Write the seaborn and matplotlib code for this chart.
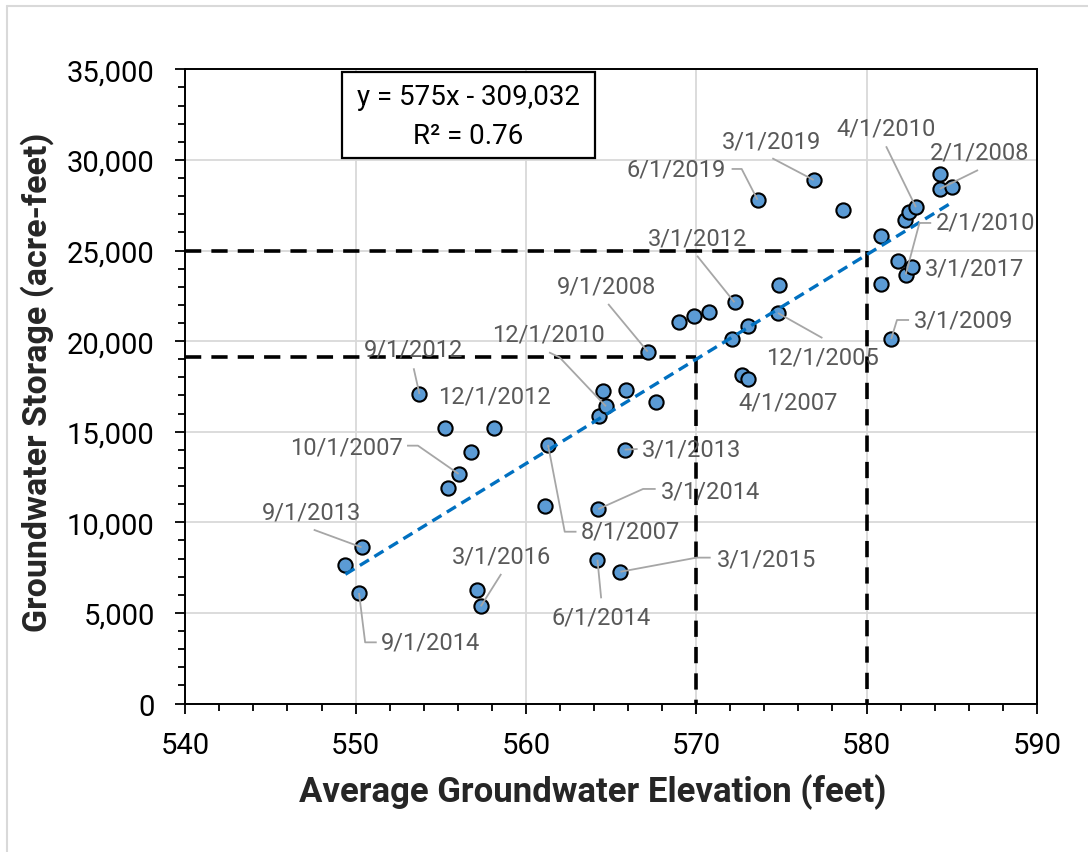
import matplotlib
matplotlib.use("Agg")
import matplotlib.pyplot as plt
from matplotlib.ticker import MultipleLocator, FuncFormatter
from matplotlib.lines import Line2D
from matplotlib.patches import Rectangle
import numpy as np
import pandas as pd
import seaborn as sns

# ---------------- data ----------------
elevation = [549.4, 550.35, 550.2, 553.75, 555.25, 555.45, 556.8, 556.05, 558.15, 557.1,
             557.35, 561.15, 561.3, 564.3, 564.55, 564.7, 565.85, 567.65, 565.8, 564.25,
             564.2, 565.55, 567.15, 569.0, 569.85, 570.75, 572.25, 572.1, 573.05, 574.8,
             574.85, 572.7, 573.05, 573.6, 576.9, 578.6, 580.85, 580.85, 581.85, 582.3,
             582.7, 581.45, 582.25, 582.5, 582.9, 584.3, 584.3, 585.0]
storage = [7640, 8620, 6100, 17080, 15220, 11890, 13900, 12670, 15190, 6280,
           5360, 10920, 14270, 15880, 17260, 16400, 17320, 16620, 14010, 10730,
           7940, 7270, 19420, 21040, 21400, 21620, 22140, 20120, 20820, 21550,
           23110, 18130, 17910, 27800, 28890, 27250, 25780, 23150, 24440, 23670,
           24070, 20120, 26680, 27140, 27390, 29220, 28400, 28490]

label_text = ["3/1/2019", "6/1/2019", "4/1/2010", "2/1/2008", "2/1/2010", "3/1/2017",
              "3/1/2012", "9/1/2008", "3/1/2009", "12/1/2005", "4/1/2007", "12/1/2010",
              "9/1/2012", "12/1/2012", "10/1/2007", "3/1/2013", "3/1/2014", "8/1/2007",
              "9/1/2013", "3/1/2016", "3/1/2015", "6/1/2014", "9/1/2014"]
label_point = [34, 33, 44, 46, 39, 40, 26, 22, 41, 29, 32, 15, 3, 8, 7, 18, 19, 12,
               1, 10, 21, 20, 2]

ref_elev = [570, 580]
ref_storage = [19100, 25000]

equation_text = "y = 575x - 309,032"
r2_text = "R² = 0.76"
x_title = "Average Groundwater Elevation (feet)"
y_title = "Groundwater Storage (acre-feet)"

# ---------------- layout (label placement, leader elbows) ----------------
label_xy = [(574.43, 31070), (568.83, 29500), (581.15, 31745), (586.64, 30450),
            (587.0, 26560), (586.32, 24020), (570.08, 25670), (564.74, 23060),
            (585.68, 21165), (577.42, 19140), (575.37, 16655), (561.34, 20390),
            (553.38, 19565), (558.17, 16985), (549.48, 14170), (569.72, 14045),
            (570.85, 11745), (566.12, 9535), (547.42, 10550), (558.58, 8155),
            (574.11, 7975), (564.39, 4755), (554.4, 3375)]
leader_elbows = [
    [(574.47, 30090)],
    [(572.08, 29500), (572.67, 29500)],
    [(581.15, 30750)],
    [(586.55, 29440)],
    [(583.8, 26520), (583.11, 26520)],
    [],
    [(570.05, 24710)],
    [(564.83, 22050)],
    [(582.5, 21165), (581.79, 21165)],
    [(577.41, 20170)],
    [],
    [(561.36, 19380), (561.98, 19100)],
    [(553.41, 18500)],
    [],
    [(553.02, 14230), (553.66, 14230)],
    [(566.56, 14045)],
    [(567.62, 11840), (566.88, 11840)],
    [(562.97, 9480), (562.28, 9480)],
    [(547.54, 9590)],
    [(558.55, 7150)],
    [(570.85, 8050), (570.02, 8050)],
    [(564.42, 5805)],
    [(551.24, 3375), (550.56, 3375)],
]

df = pd.DataFrame({"elev": elevation, "storage": storage})

sns.set_theme(style="white")
plt.rcParams["font.family"] = ["Roboto", "DejaVu Sans"]

W, H = 1088, 853
fig = plt.figure(figsize=(W / 100, H / 100), dpi=100)
ax = fig.add_axes([185.3 / W, 1 - 704.5 / H, 851.5 / W, 634.2 / H])

# outer light border of the chart area
fig.add_artist(Line2D([6.5 / W, 1.0], [1 - 6.5 / H, 1 - 6.5 / H], color="#D9D9D9", lw=1.5,
                      transform=fig.transFigure))
fig.add_artist(Line2D([6.5 / W, 6.5 / W], [0, 1 - 6.5 / H], color="#D9D9D9", lw=1.5,
                      transform=fig.transFigure))

# reference dashed lines
for xe, ys in zip(ref_elev, ref_storage):
    ax.plot([540, xe], [ys, ys], color="black", lw=2.6, ls=(0, (4.5, 2.8)), zorder=2)
    ax.plot([xe, xe], [ys, 0], color="black", lw=2.6, ls=(0, (4.5, 2.8)), zorder=2)

# scatter
sns.scatterplot(data=df, x="elev", y="storage", ax=ax, color="#5B9BD5", edgecolor="black",
                linewidth=1.5, s=105, zorder=4, legend=False)

# trend line
sns.regplot(data=df, x="elev", y="storage", ax=ax, scatter=False, ci=None, truncate=True,
            line_kws=dict(color="#0070C0", lw=2.4, ls=(0, (3.2, 1.9)), zorder=5))

# labels and leader lines
for txt, pidx, (tx, ty), elbows in zip(label_text, label_point, label_xy, leader_elbows):
    if elbows:
        xs = [p[0] for p in elbows] + [elevation[pidx]]
        ys = [p[1] for p in elbows] + [storage[pidx]]
        ax.plot(xs, ys, color="#A6A6A6", lw=1.3, zorder=6, solid_capstyle="butt")
    ax.text(tx, ty, txt, ha="center", va="center", fontsize=17, color="#595959", zorder=7,
            clip_on=False)

# equation box
ax.add_patch(Rectangle((0.1844, 0.8601), 0.4812 - 0.1844, 0.9962 - 0.8601,
                       transform=ax.transAxes, facecolor="white", edgecolor="black",
                       lw=1.6, zorder=8))
ax.text(0.3328, 0.9574, equation_text, transform=ax.transAxes, ha="center", va="center",
        fontsize=20, color="black", zorder=9)
ax.text(0.3328, 0.8964, r2_text, transform=ax.transAxes, ha="center", va="center",
        fontsize=20, color="black", zorder=9)

# axes
ax.set_xlim(540, 590)
ax.set_ylim(0, 35000)
ax.set_xticks(np.arange(540, 591, 10))
ax.set_yticks(np.arange(0, 35001, 5000))
ax.xaxis.set_minor_locator(MultipleLocator(2))
ax.yaxis.set_minor_locator(MultipleLocator(1000))
ax.yaxis.set_major_formatter(FuncFormatter(lambda v, p: f"{int(v):,}"))
ax.grid(True, which="major", color="#D9D9D9", lw=1.3)
ax.set_axisbelow(True)
for sp in ax.spines.values():
    sp.set_color("black")
    sp.set_linewidth(1.4)
ax.tick_params(which="both", direction="out", bottom=True, left=True, color="black",
               width=1.3)
ax.tick_params(which="major", length=7, labelsize=21, labelcolor="black")
ax.tick_params(which="minor", length=5)
ax.tick_params(axis="y", which="major", pad=15)
ax.tick_params(axis="x", which="major", pad=13)

ax.set_xlabel(x_title, fontsize=25, fontweight="bold")
ax.set_ylabel(y_title, fontsize=24.5, fontweight="bold")
ax.xaxis.set_label_coords(0.478, -0.11)
ax.yaxis.set_label_coords(-0.154, 0.508)

fig.savefig("out.png", dpi=100)
